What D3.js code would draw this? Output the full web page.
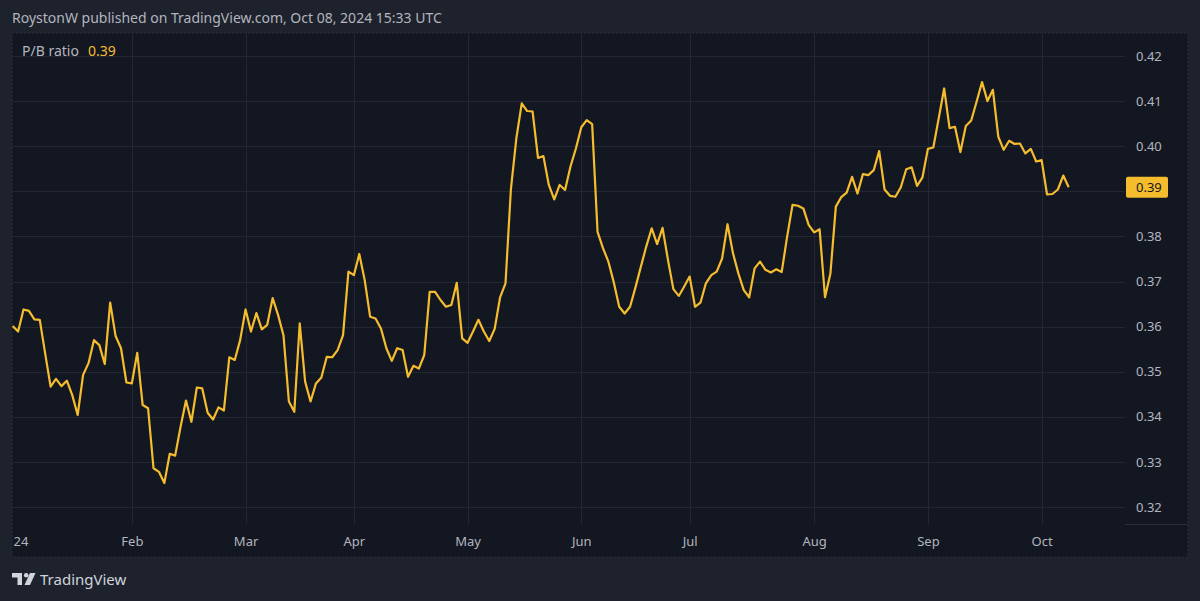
<!DOCTYPE html>
<html>
<head>
<meta charset="utf-8">
<script src="https://cdn.jsdelivr.net/npm/d3@7"></script>
<style>
  html, body { margin: 0; padding: 0; background: #1e222d; }
  svg { display: block; }
  text { font-family: "Noto Sans", "DejaVu Sans", sans-serif; }
</style>
</head>
<body>
<svg id="chart" width="1200" height="601"></svg>
<script>
// daily P/B ratio, trading days from 2 Jan 2024 to 8 Oct 2024
var values = [
  // Jan
  0.3601, 0.3589, 0.3638, 0.3635, 0.3616, 0.3615, 0.3540, 0.3467, 0.3484, 0.3468, 0.3480,
  0.3448, 0.3404, 0.3493, 0.3519, 0.3570, 0.3559, 0.3517, 0.3653, 0.3579, 0.3552, 0.3476,
  // Feb
  0.3474, 0.3542, 0.3426, 0.3419, 0.3286, 0.3278, 0.3253, 0.3318, 0.3314, 0.3378, 0.3436,
  0.3389, 0.3465, 0.3463, 0.3409, 0.3394, 0.3421, 0.3414, 0.3532, 0.3526, 0.3570,
  // Mar
  0.3638, 0.3589, 0.3630, 0.3594, 0.3604, 0.3663, 0.3626, 0.3581, 0.3434, 0.3411,
  0.3607, 0.3478, 0.3434, 0.3474, 0.3487, 0.3533, 0.3532, 0.3548, 0.3581, 0.3722,
  // Apr
  0.3714, 0.3761, 0.3703, 0.3622, 0.3618, 0.3596, 0.3552, 0.3524, 0.3552, 0.3548, 0.3489,
  0.3513, 0.3507, 0.3537, 0.3677, 0.3677, 0.3659, 0.3644, 0.3648, 0.3697, 0.3574,
  // May
  0.3564, 0.3589, 0.3615, 0.3589, 0.3568, 0.3595, 0.3665, 0.3696, 0.3905, 0.4017, 0.4095,
  0.4078, 0.4077, 0.3974, 0.3978, 0.3914, 0.3882, 0.3914, 0.3903, 0.3955, 0.3995,
  // Jun
  0.4042, 0.4058, 0.4049, 0.3810, 0.3774, 0.3744, 0.3698, 0.3644, 0.3629, 0.3644,
  0.3687, 0.3733, 0.3778, 0.3818, 0.3783, 0.3819, 0.3748, 0.3683, 0.3668, 0.3689,
  // Jul
  0.3711, 0.3644, 0.3653, 0.3696, 0.3714, 0.3722, 0.3751, 0.3827, 0.3763, 0.3718, 0.3681, 0.3665,
  0.3729, 0.3744, 0.3726, 0.3720, 0.3727, 0.3721, 0.3799, 0.3870, 0.3868, 0.3862, 0.3825,
  // Aug
  0.3809, 0.3816, 0.3665, 0.3718, 0.3866, 0.3887, 0.3897, 0.3932, 0.3895, 0.3938, 0.3936,
  0.3947, 0.3989, 0.3904, 0.3890, 0.3888, 0.3909, 0.3949, 0.3953, 0.3912, 0.3931,
  // Sep
  0.3994, 0.3997, 0.4062, 0.4128, 0.4040, 0.4043, 0.3987, 0.4045, 0.4057, 0.4099, 0.4142,
  0.4100, 0.4125, 0.4021, 0.3992, 0.4012, 0.4005, 0.4006, 0.3984, 0.3994, 0.3966,
  // Oct
  0.3969, 0.3893, 0.3894, 0.3904, 0.3935, 0.3909
];

// London market holidays in the period
var holidays = ["2024-01-01", "2024-03-29", "2024-04-01", "2024-05-06", "2024-05-27", "2024-08-26"];
// first label is the year, only its tail shows at the left edge
var monthNames = ["24", "Feb", "Mar", "Apr", "May", "Jun", "Jul", "Aug", "Sep", "Oct"];
var yTicks = [0.32, 0.33, 0.34, 0.35, 0.36, 0.37, 0.38, 0.39, 0.40, 0.41, 0.42];

var seriesName = "P/B ratio";
var header = "RoystonW published on TradingView.com, Oct 08, 2024 15:33 UTC";

// trading calendar
var fmt = d3.timeFormat("%Y-%m-%d");
var dates = [];
var day = new Date(2024, 0, 2);
while (dates.length < values.length) {
    var wd = day.getDay();
    if (wd !== 0 && wd !== 6 && holidays.indexOf(fmt(day)) < 0) dates.push(new Date(day));
    day = d3.timeDay.offset(day, 1);
}
var data = values.map(function (v, i) { return {i: i, date: dates[i], value: v}; });

// first trading day of each month
var monthStarts = data.filter(function (d, i) {
    return i === 0 || d.date.getMonth() !== data[i - 1].date.getMonth();
});

var paneL = 12, paneT = 33, paneR = 1188, paneB = 557;
var plotR = 1125, plotB = 524;

var x = d3.scaleLinear().domain([0, values.length - 1]).range([12.7, 1068.7]);
var y = d3.scaleLinear().domain([0.32, 0.42]).range([507, 56]);

var svg = d3.select('#chart');

svg.append('rect').attr('width', 1200).attr('height', 601).attr('fill', '#1e222d');
svg.append('rect')
    .attr('x', paneL).attr('y', paneT)
    .attr('width', paneR - paneL).attr('height', paneB - paneT)
    .attr('fill', '#131722')
    .attr('stroke', '#2a2e39').attr('stroke-dasharray', '2,2');

var defs = svg.append('defs');
defs.append('clipPath').attr('id', 'plotClip')
    .append('rect').attr('x', paneL).attr('y', paneT)
    .attr('width', plotR - paneL).attr('height', plotB - paneT);

// grid
var grid = svg.append('g').attr('clip-path', 'url(#plotClip)');
grid.selectAll('line.h')
    .data(yTicks)
    .enter()
    .append('line')
    .attr('class', 'h')
    .attr('x1', paneL).attr('x2', plotR)
    .attr('y1', function (d) { return Math.round(y(d)) + 0.5; })
    .attr('y2', function (d) { return Math.round(y(d)) + 0.5; })
    .attr('stroke', '#232734');
grid.selectAll('line.v')
    .data(monthStarts.slice(1))
    .enter()
    .append('line')
    .attr('class', 'v')
    .attr('x1', function (d) { return Math.round(x(d.i)) + 0.5; })
    .attr('x2', function (d) { return Math.round(x(d.i)) + 0.5; })
    .attr('y1', paneT).attr('y2', plotB)
    .attr('stroke', '#232734');

// corner separator
svg.append('line')
    .attr('x1', plotR).attr('x2', paneR)
    .attr('y1', plotB + 0.5).attr('y2', plotB + 0.5)
    .attr('stroke', '#2a2e39');

// line
var line = d3.line()
    .x(function (d) { return x(d.i); })
    .y(function (d) { return y(d.value); });

svg.append('g').attr('clip-path', 'url(#plotClip)')
    .append('path')
    .datum(data)
    .attr('d', line)
    .attr('fill', 'none')
    .attr('stroke', '#f5bd2e')
    .attr('stroke-width', 2.2)
    .attr('stroke-linejoin', 'round');

// x axis
var xAxis = d3.axisBottom(x)
    .tickValues(monthStarts.map(function (d) { return d.i; }))
    .tickSize(0)
    .tickPadding(0)
    .tickFormat(function (i) { return monthNames[dates[i].getMonth()]; });

var gx = svg.append('g')
    .attr('transform', 'translate(0,' + plotB + ')')
    .call(xAxis);
gx.select('.domain').remove();
gx.selectAll('text')
    .attr('y', 17)
    .attr('dy', '0.35em')
    .attr('fill', '#b2b5be')
    .style('font-size', '13px');
// the year label sits on the left edge
gx.selectAll('.tick').filter(function (d) { return d === 0; })
    .select('text')
    .attr('text-anchor', 'start')
    .attr('x', 0.3);

// y axis
var last = data[data.length - 1];
var yAxis = d3.axisRight(y)
    .tickValues(yTicks)
    .tickSize(0)
    .tickPadding(0)
    .tickFormat(d3.format('.2f'));

var gy = svg.append('g')
    .attr('transform', 'translate(1136,0)')
    .call(yAxis);
gy.select('.domain').remove();
gy.selectAll('text')
    .attr('fill', '#b2b5be')
    .style('font-size', '13px');
// tick hidden under the last value tag
gy.selectAll('.tick')
    .filter(function (d) { return Math.abs(y(d) - y(last.value)) < 14; })
    .remove();

// last value tag
var tag = svg.append('g').attr('transform', 'translate(1126,' + y(last.value) + ')');
tag.append('rect')
    .attr('x', 0).attr('y', -10.5)
    .attr('width', 42).attr('height', 21)
    .attr('rx', 2)
    .attr('fill', '#f5bd2e');
tag.append('text')
    .attr('x', 10).attr('dy', '0.35em')
    .attr('fill', '#131722')
    .style('font-size', '13px')
    .text(d3.format('.2f')(last.value));

// header and legend
svg.append('text')
    .attr('x', 12).attr('y', 23)
    .attr('fill', '#b2b5be')
    .style('font-size', '14px')
    .text(header);

var legend = svg.append('text')
    .attr('x', 22).attr('y', 56)
    .style('font-size', '14px');
legend.append('tspan').attr('fill', '#b2b5be').text(seriesName);
legend.append('tspan').attr('dx', 9).attr('fill', '#f5bd2e').text(d3.format('.2f')(last.value));

// TradingView mark
var logo = svg.append('g').attr('transform', 'translate(12,573)').attr('fill', '#d1d4dc');
logo.append('path').attr('d', 'M0,0 H10 V12 H5.5 V4.5 H0 Z');
logo.append('circle').attr('cx', 14.2).attr('cy', 2.3).attr('r', 2.3);
logo.append('path').attr('d', 'M18,0 H23.5 L18,12 H12.5 Z');
svg.append('text')
    .attr('x', 40).attr('y', 585)
    .attr('fill', '#d1d4dc')
    .style('font-size', '15px')
    .text('TradingView');
</script>
</body>
</html>
